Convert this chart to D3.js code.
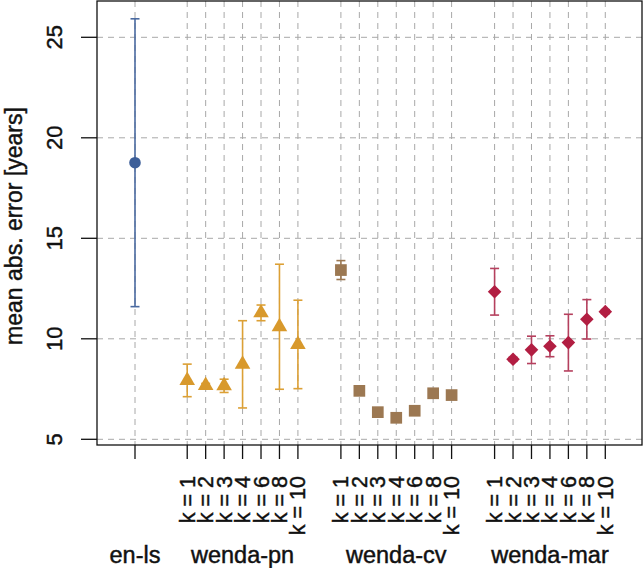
<!DOCTYPE html>
<html>
<head>
<meta charset="utf-8">
<script src="https://cdn.jsdelivr.net/npm/d3@7"></script>
<style>
  body { margin: 0; background: #fff; }
  svg { display: block; font-family: "Liberation Sans", Arial, Helvetica, sans-serif; }
  text { stroke: #111; stroke-width: 0.45px; }
</style>
</head>
<body>
<svg id="chart" width="644" height="568"></svg>
<script>
// ---- data ----
const groups = ["en-ls", "wenda-pn", "wenda-cv", "wenda-mar"];
const kLabels = ["k = 1", "k = 2", "k = 3", "k = 4", "k = 6", "k = 8", "k = 10"];
const yTicks = [5, 10, 15, 20, 25];

const enLsMean = [18.76];
const enLsErr = [7.16];

const pnMean = [7.93, 7.68, 7.66, 8.73, 11.29, 10.60, 9.72];
const pnErr  = [0.81, 0.10, 0.33, 2.17, 0.39, 3.11, 2.20];

const cvMean = [13.42, 7.41, 6.35, 6.07, 6.42, 7.29, 7.20];
const cvErr  = [0.47, 0.10, 0.10, 0.10, 0.10, 0.10, 0.10];

const marMean = [12.34, 8.98, 9.45, 9.63, 9.81, 10.97, 11.35];
const marErr  = [1.16, 0.10, 0.68, 0.52, 1.41, 0.98, 0.10];

// ---- layout ----
const svg = d3.select("#chart");
const box = { left: 97, right: 642, top: 1, bottom: 445 };

const groupStart = g => g === 0 ? 0 : 2.83 + (g - 1) * 8.33;
const x = d3.scaleLinear().domain([0, 1]).range([135, 135 + 18.45]);
const y = d3.scaleLinear().domain([5, 25]).range([439.3, 37.3]);

const colors = ["#3d5f99", "#d8992c", "#9c7852", "#b21e42"];
const barColors = ["#4a6aa0", "#dca035", "#9c7852", "#b5405e"];

const series = [
  { g: 0, mean: enLsMean, err: enLsErr, shape: "circle" },
  { g: 1, mean: pnMean, err: pnErr, shape: "triangle" },
  { g: 2, mean: cvMean, err: cvErr, shape: "square" },
  { g: 3, mean: marMean, err: marErr, shape: "diamond" }
];

const points = [];
series.forEach(s => {
  s.mean.forEach((m, i) => {
    points.push({ g: s.g, k: i, pos: groupStart(s.g) + i, mean: m, err: s.err[i], shape: s.shape,
                  single: s.mean.length === 1 });
  });
});

// ---- grid ----
const grid = svg.append("g").attr("stroke", "#a8a8a8").attr("stroke-width", 1)
  .attr("stroke-dasharray", "6,5").attr("fill", "none");
yTicks.forEach(t => {
  grid.append("line").attr("x1", box.left).attr("x2", box.right)
    .attr("y1", y(t)).attr("y2", y(t));
});
points.forEach(p => {
  grid.append("line").attr("x1", x(p.pos)).attr("x2", x(p.pos))
    .attr("y1", box.top).attr("y2", box.bottom);
});

// ---- box ----
svg.append("rect").attr("x", box.left).attr("y", box.top)
  .attr("width", box.right - box.left).attr("height", box.bottom - box.top)
  .attr("fill", "none").attr("stroke", "#111").attr("stroke-width", 1.3);

// ---- y axis ----
const yAx = svg.append("g");
yTicks.forEach(t => {
  yAx.append("line").attr("x1", 81).attr("x2", box.left)
    .attr("y1", y(t)).attr("y2", y(t)).attr("stroke", "#111").attr("stroke-width", 1.3);
  yAx.append("text").attr("transform", `translate(62,${y(t)}) rotate(-90)`)
    .attr("text-anchor", "middle").attr("font-size", 22).attr("fill", "#111").text(t);
});
svg.append("text").attr("transform", `translate(22,226) rotate(-90)`)
  .attr("text-anchor", "middle").attr("font-size", 23).attr("fill", "#111")
  .text("mean abs. error [years]");

// ---- x axis ----
const xAx = svg.append("g");
points.forEach(p => {
  xAx.append("line").attr("x1", x(p.pos)).attr("x2", x(p.pos))
    .attr("y1", box.bottom).attr("y2", 459).attr("stroke", "#111").attr("stroke-width", 1.3);
  if (!p.single) {
    xAx.append("text").attr("transform", `translate(${x(p.pos)},476) rotate(-90)`)
      .attr("text-anchor", "end").attr("dy", "0.35em").attr("font-size", 21.5)
      .attr("fill", "#111").text(kLabels[p.k]);
  }
});
groups.forEach((name, g) => {
  const n = series[g].mean.length;
  const cx = (x(groupStart(g)) + x(groupStart(g) + n - 1)) / 2;
  svg.append("text").attr("x", cx).attr("y", 563).attr("text-anchor", "middle")
    .attr("font-size", 23.5).attr("fill", "#111").text(name);
});

// ---- error bars ----
const eb = svg.append("g").attr("stroke-width", 1.6);
points.forEach(p => {
  const c = barColors[p.g];
  const xc = x(p.pos), y0 = y(p.mean - p.err), y1 = y(p.mean + p.err);
  eb.append("line").attr("x1", xc).attr("x2", xc).attr("y1", y0).attr("y2", y1).attr("stroke", c);
  [y0, y1].forEach(yy => eb.append("line").attr("x1", xc - 4.5).attr("x2", xc + 4.5)
    .attr("y1", yy).attr("y2", yy).attr("stroke", c));
});

// ---- markers ----
const mk = svg.append("g");
const diamondPath = r => `M0,${-r}L${r},0L0,${r}L${-r},0Z`;
points.forEach(p => {
  const c = colors[p.g];
  const t = `translate(${x(p.pos)},${y(p.mean)})`;
  if (p.shape === "circle") {
    mk.append("circle").attr("cx", x(p.pos)).attr("cy", y(p.mean)).attr("r", 5.8).attr("fill", c);
  } else if (p.shape === "triangle") {
    mk.append("path").attr("transform", t).attr("d", d3.symbol(d3.symbolTriangle, 105)()).attr("fill", c);
  } else if (p.shape === "square") {
    mk.append("path").attr("transform", t).attr("d", d3.symbol(d3.symbolSquare, 137)()).attr("fill", c);
  } else {
    mk.append("path").attr("transform", t).attr("d", diamondPath(6.8)).attr("fill", c);
  }
});
</script>
</body>
</html>
